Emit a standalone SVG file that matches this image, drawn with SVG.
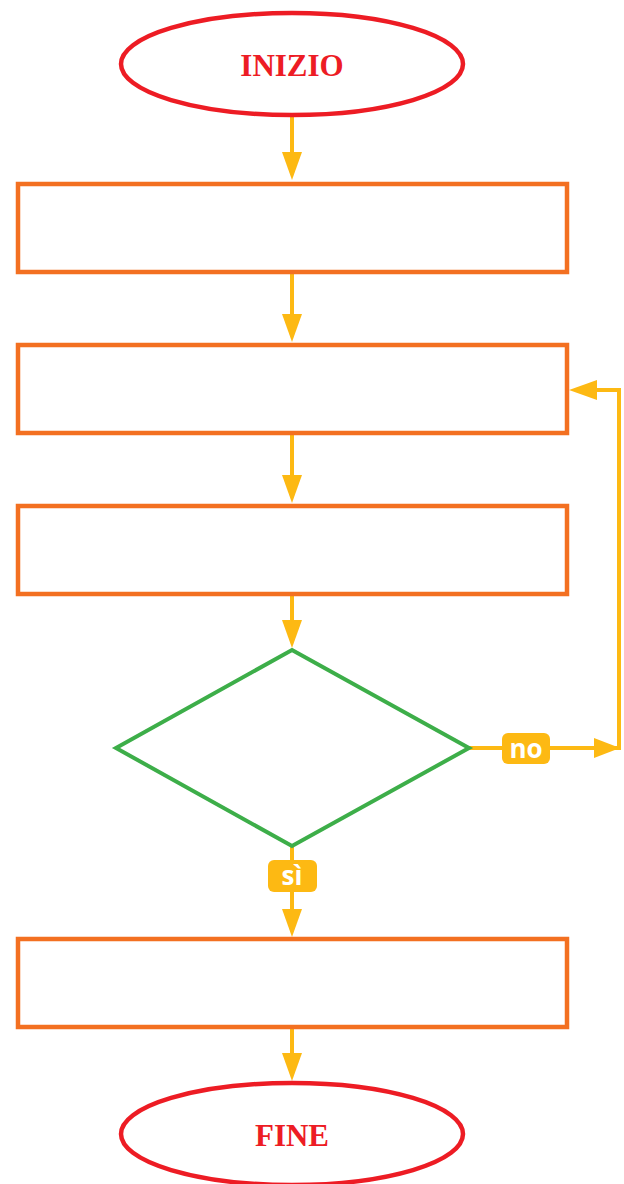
<svg xmlns="http://www.w3.org/2000/svg" width="624" height="1184" viewBox="0 0 624 1184">
<style>
.term{fill:#fff;stroke:#ED1C24;stroke-width:4.5}
.proc{fill:#fff;stroke:#F37021;stroke-width:4.5}
.dec{fill:#fff;stroke:#3DAE49;stroke-width:4}
.tt{font-family:"Liberation Serif",serif;font-weight:bold;font-size:31px;fill:#ED1C24;text-anchor:middle}
.ln{fill:none;stroke:#FDB913;stroke-width:4}
.ah{fill:#FDB913}
.badge{fill:#FDB913}
.bt{font-family:"Open Sans","Liberation Sans",sans-serif;font-weight:bold;font-size:26px;fill:#fff;text-anchor:middle}
</style>
<g id="connectors">
<line class="ln" x1="292" y1="117" x2="292" y2="155"/>
<polygon class="ah" points="282,152 302,152 292,180"/>
<line class="ln" x1="292" y1="272" x2="292" y2="316"/>
<polygon class="ah" points="282,314 302,314 292,342"/>
<line class="ln" x1="292" y1="433" x2="292" y2="477"/>
<polygon class="ah" points="282,475 302,475 292,503"/>
<line class="ln" x1="292" y1="594" x2="292" y2="622"/>
<polygon class="ah" points="282,620 302,620 292,648"/>
<line class="ln" x1="292" y1="846" x2="292" y2="912"/>
<polygon class="ah" points="282,909 302,909 292,937"/>
<line class="ln" x1="292" y1="1027" x2="292" y2="1056"/>
<polygon class="ah" points="282,1053 302,1053 292,1081"/>
<polyline class="ln" points="469,748 619,748 619,390 596,390"/>
<polygon class="ah" points="594,738 594,758 620,748"/>
<polygon class="ah" points="597,380 597,400 569,390"/>
<g id="label-no">
<rect class="badge" x="502" y="733" width="48" height="31" rx="6"/>
<text class="bt" x="526" y="758">no</text>
</g>
<g id="label-si">
<rect class="badge" x="268" y="860" width="49" height="32" rx="6"/>
<text class="bt" x="292" y="885">sì</text>
</g>
</g>
<g id="start">
<ellipse class="term" cx="292" cy="64" rx="171" ry="51"/>
<text class="tt" x="292" y="76">INIZIO</text>
</g>
<g id="step1"><rect class="proc" x="18" y="184" width="549" height="88"/></g>
<g id="step2"><rect class="proc" x="18" y="345" width="549" height="88"/></g>
<g id="step3"><rect class="proc" x="18" y="506" width="549" height="88"/></g>
<g id="decision"><polygon class="dec" points="292,650 469,748 292,846 116,748"/></g>
<g id="step4"><rect class="proc" x="18" y="939" width="549" height="88"/></g>
<g id="end">
<ellipse class="term" cx="292" cy="1134" rx="171" ry="51"/>
<text class="tt" x="292" y="1146">FINE</text>
</g>
</svg>
